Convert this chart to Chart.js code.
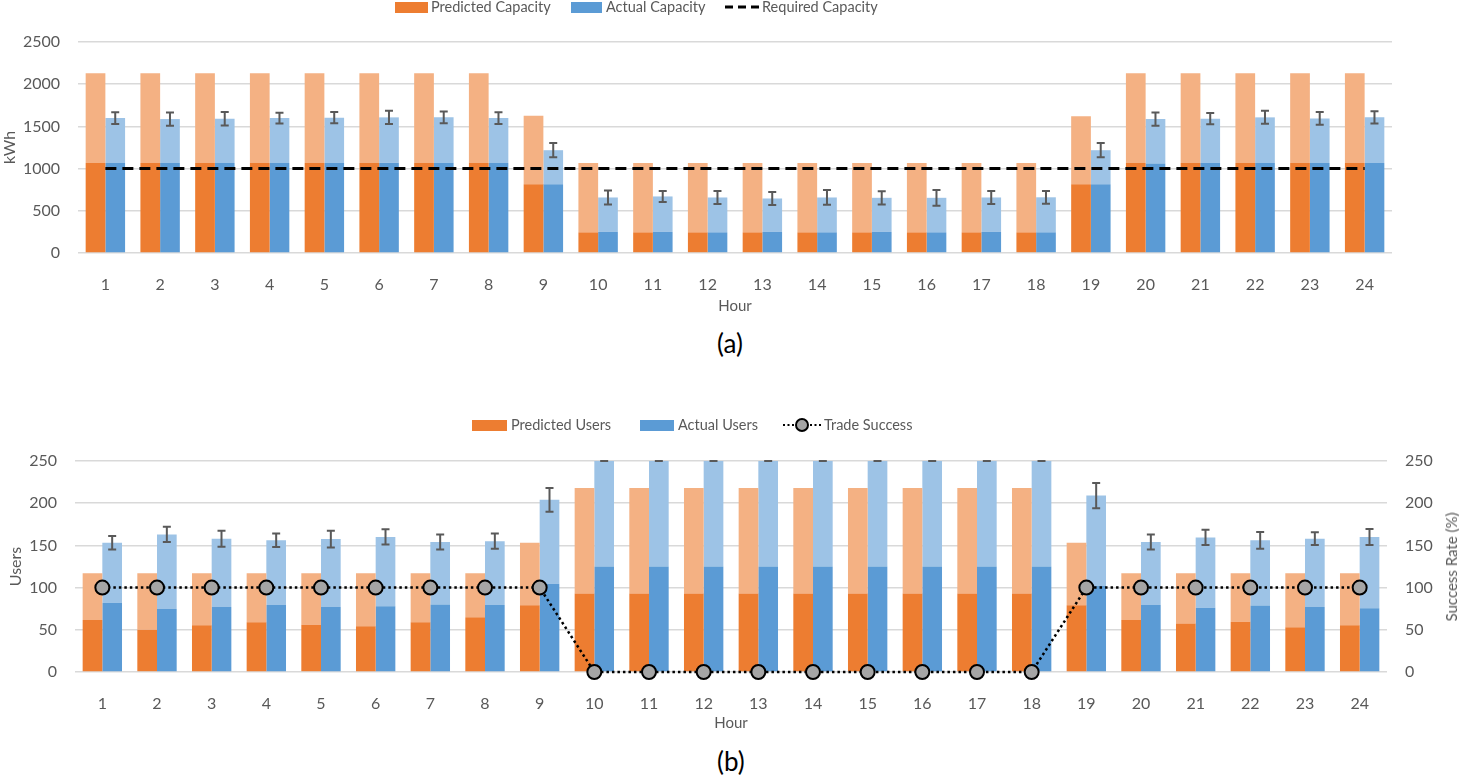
<!DOCTYPE html>
<html>
<head>
<meta charset="utf-8">
<script src="https://cdn.jsdelivr.net/npm/chart.js@4"></script>
<style>
  html, body { margin: 0; padding: 0; background: #ffffff; }
  body { width: 1459px; height: 776px; position: relative; overflow: hidden; font-family: Lato, "Noto Sans", sans-serif; }
  canvas { position: absolute; left: 0; }
  .lg { position: absolute; font-size: 14.5px; color: #595959; line-height: 16px; white-space: nowrap; }
  .box { position: absolute; }
  .cap { position: absolute; font-size: 26px; color: #000; line-height: 30px; }
</style>
</head>
<body>
<canvas id="c1" style="top:0px;width:1459px;height:322px" width="1459" height="322"></canvas>
<canvas id="c2" style="top:400px;width:1459px;height:340px" width="1459" height="340"></canvas>
<div id="legend1"></div>
<div id="legend2"></div>
<div class="cap" style="left:717px;top:328px">(a)</div>
<div class="cap" style="left:717px;top:746px">(b)</div>
<div class="lg" id="y2title" style="font-size:15px;left:1451px;top:567px;transform:translate(-50%,-50%) rotate(-90deg);">Success Rate (%)</div>
<script>
// ---------------- DATA ----------------
const hours = ['1','2','3','4','5','6','7','8','9','10','11','12','13','14','15','16','17','18','19','20','21','22','23','24'];

// Panel (a) – capacity (kWh)
const predCapBase  = [1065,1065,1065,1065,1065,1065,1065,1065,815,245,245,245,245,245,245,245,245,245,815,1065,1065,1065,1065,1065];
const predCapTotal = [2130,2130,2130,2130,2130,2130,2130,2130,1625,1065,1065,1065,1065,1065,1065,1065,1065,1065,1620,2130,2130,2130,2130,2130];
const actCapBase   = [1065,1065,1065,1065,1070,1070,1070,1065,815,250,250,245,250,245,250,245,250,245,815,1060,1070,1065,1065,1065];
const actCapTotal  = [1599,1587,1591,1599,1603,1607,1607,1599,1218,658,670,658,646,658,654,654,658,660,1218,1587,1591,1607,1595,1607];
const actCapErr    = [70,79,79,64,67,79,71,70,85,83,65,77,77,87,79,93,77,75,85,79,67,77,75,73];
const requiredCap  = [1000,1000,1000,1000,1000,1000,1000,1000,1000,1000,1000,1000,1000,1000,1000,1000,1000,1000,1000,1000,1000,1000,1000,1000];

// Panel (b) – users and trade success
const predUsersBase  = [61.5,50,55.5,59,56,54.3,59,65,79,93,93,93,93,93,93,93,93,93,79,61.5,57.5,59.5,53,55.5];
const predUsersTotal = [117,117,117,117,117,117,117,117,153,218,218,218,218,218,218,218,218,218,153,117,117,117,117,117];
const actUsersBase   = [82,74.5,77,79.5,77,78,80,79.5,104.5,125,125,125,125,125,125,125,125,125,102,79.5,76,78.7,77,75.6];
const actUsersTotal  = [153,163,158,156,157.5,160,154,155,204,262,262,262,262,262,262,262,262,262,209,154,159.5,156,158,160];
const actUsersErr    = [8,9,9.5,8,10,9,9,9,14,12,12,12,12,12,12,12,12,12,15,9,9,10,7.5,9.5];
const tradeSuccess   = [100,100,100,100,100,100,100,100,100,0,0,0,0,0,0,0,0,0,100,100,100,100,100,100];

const yTicksA = [0,500,1000,1500,2000,2500];
const yTicksB = [0,50,100,150,200,250];

// ---------------- STYLE ----------------
const ORANGE = '#ED7D31', ORANGE_L = '#F4B183', BLUE = '#5B9BD5', BLUE_L = '#9DC3E6';
const TXT = '#595959', GRID = '#D9D9D9';
const FONT = 'Lato';

function diff(total, base) { return total.map((v, i) => v - base[i]); }
const plainNum = v => String(v);

// error bar plugin – drawn on top of the last actual-bar segment
const errorBarPlugin = {
  id: 'errorBars',
  afterDatasetsDraw(chart, args, opts) {
    const meta = chart.getDatasetMeta(opts.datasetIndex);
    const yScale = chart.scales[opts.scaleId];
    const ctx = chart.ctx;
    const area = chart.chartArea;
    ctx.save();
    ctx.beginPath();
    ctx.rect(area.left, area.top - 1, area.right - area.left, area.bottom - area.top + 1);
    ctx.clip();
    ctx.strokeStyle = '#595959';
    ctx.lineWidth = 2;
    meta.data.forEach((bar, i) => {
      const total = opts.totals[i], e = opts.errors[i];
      const x = bar.x;
      const yHi = yScale.getPixelForValue(total + e);
      const yLo = yScale.getPixelForValue(total - e);
      ctx.beginPath();
      ctx.moveTo(x, yHi); ctx.lineTo(x, yLo);
      ctx.moveTo(x - 4, yHi); ctx.lineTo(x + 4, yHi);
      ctx.moveTo(x - 4, yLo); ctx.lineTo(x + 4, yLo);
      ctx.stroke();
    });
    ctx.restore();
  }
};

Chart.defaults.font.family = FONT;
Chart.defaults.color = TXT;
Chart.defaults.animation = false;

// ---------------- CHART (a) ----------------
new Chart(document.getElementById('c1'), {
  data: {
    labels: hours,
    datasets: [
      { type: 'bar', label: 'Predicted Capacity', data: predCapBase, backgroundColor: ORANGE, stack: 'p', order: 2 },
      { type: 'bar', label: 'Predicted Capacity (upper)', data: diff(predCapTotal, predCapBase), backgroundColor: ORANGE_L, stack: 'p', order: 2 },
      { type: 'bar', label: 'Actual Capacity', data: actCapBase, backgroundColor: BLUE, stack: 'a', order: 2 },
      { type: 'bar', label: 'Actual Capacity (upper)', data: diff(actCapTotal, actCapBase), backgroundColor: BLUE_L, stack: 'a', order: 2 },
      { type: 'line', label: 'Required Capacity', data: requiredCap, borderColor: '#000', borderWidth: 3, borderDash: [11, 6], pointRadius: 0, fill: false, stack: 'r', order: 1 }
    ]
  },
  options: {
    responsive: false,
    layout: { padding: { top: 42, right: 67, left: 0, bottom: 0 } },
    datasets: { bar: { categoryPercentage: 0.72, barPercentage: 1.0 } },
    plugins: {
      legend: { display: false },
      tooltip: { enabled: false },
      errorBars: { datasetIndex: 3, scaleId: 'y', totals: actCapTotal, errors: actCapErr }
    },
    scales: {
      x: {
        stacked: true,
        grid: { display: false },
        border: { display: false },
        ticks: { font: { size: 16 }, color: TXT, padding: 14, maxRotation: 0 },
        title: { display: true, text: 'Hour', font: { size: 15 }, color: TXT, padding: { top: 0, bottom: 7 } },
        afterFit(s) { s.height = 69; }
      },
      y: {
        stacked: true,
        min: 0, max: 2500,
        afterBuildTicks(s) { s.ticks = yTicksA.map(v => ({ value: v })); },
        grid: { color: GRID, lineWidth: 1.6, drawTicks: false },
        border: { display: false },
        ticks: { font: { size: 16 }, color: TXT, padding: 18, callback: plainNum },
        title: { display: true, text: 'kWh', font: { size: 16 }, color: TXT, padding: { top: 0, bottom: 0 } },
        afterFit(s) { s.width = 78; }
      }
    }
  },
  plugins: [errorBarPlugin]
});

// ---------------- CHART (b) ----------------
new Chart(document.getElementById('c2'), {
  data: {
    labels: hours,
    datasets: [
      { type: 'bar', label: 'Predicted Users', data: predUsersBase, backgroundColor: ORANGE, stack: 'p', yAxisID: 'y', order: 2 },
      { type: 'bar', label: 'Predicted Users (upper)', data: diff(predUsersTotal, predUsersBase), backgroundColor: ORANGE_L, stack: 'p', yAxisID: 'y', order: 2 },
      { type: 'bar', label: 'Actual Users', data: actUsersBase, backgroundColor: BLUE, stack: 'a', yAxisID: 'y', order: 2 },
      { type: 'bar', label: 'Actual Users (upper)', data: diff(actUsersTotal, actUsersBase), backgroundColor: BLUE_L, stack: 'a', yAxisID: 'y', order: 2 },
      { type: 'line', label: 'Trade Success', data: tradeSuccess, yAxisID: 'y2', borderColor: '#000', borderWidth: 2.5, borderDash: [2.5, 3], pointRadius: 7, pointBackgroundColor: '#A5A5A5', pointBorderColor: '#000', pointBorderWidth: 2, fill: false, order: 1, clip: false }
    ]
  },
  options: {
    responsive: false,
    layout: { padding: { top: 61, right: 0, left: 0, bottom: 0 } },
    datasets: { bar: { categoryPercentage: 0.72, barPercentage: 1.0 } },
    plugins: {
      legend: { display: false },
      tooltip: { enabled: false },
      errorBars: { datasetIndex: 3, scaleId: 'y', totals: actUsersTotal, errors: actUsersErr }
    },
    scales: {
      x: {
        stacked: true,
        grid: { display: false },
        border: { display: false },
        ticks: { font: { size: 16 }, color: TXT, padding: 14, maxRotation: 0 },
        title: { display: true, text: 'Hour', font: { size: 15 }, color: TXT, padding: { top: 0, bottom: 8 } },
        afterFit(s) { s.height = 68; }
      },
      y: {
        stacked: true,
        min: 0, max: 250,
        afterBuildTicks(s) { s.ticks = yTicksB.map(v => ({ value: v })); },
        grid: { color: GRID, lineWidth: 1.6, drawTicks: false },
        border: { display: false },
        ticks: { font: { size: 16 }, color: TXT, padding: 18, callback: plainNum },
        title: { display: true, text: 'Users', font: { size: 16 }, color: TXT, padding: { top: 6, bottom: 0 } },
        afterFit(s) { s.width = 75; }
      },
      y2: {
        position: 'right',
        min: 0, max: 250,
        afterBuildTicks(s) { s.ticks = yTicksB.map(v => ({ value: v })); },
        grid: { display: false, drawTicks: false },
        border: { display: false },
        ticks: { font: { size: 16 }, color: TXT, padding: 18, callback: plainNum },
        afterFit(s) { s.width = 72; }
      }
    }
  },
  plugins: [errorBarPlugin]
});

// ---------------- LEGENDS (HTML) ----------------
function buildLegend(el, top, items) {
  items.forEach(it => {
    if (it.kind === 'box') {
      const b = document.createElement('div');
      b.className = 'box';
      b.style.cssText = `left:${it.x}px;top:${top - 5}px;width:${it.w}px;height:11px;background:${it.color}`;
      el.appendChild(b);
    } else if (it.kind === 'dash') {
      const c = document.createElement('canvas');
      c.width = it.w; c.height = 10;
      c.style.cssText = `position:absolute;left:${it.x}px;top:${top - 5}px;width:${it.w}px;height:10px`;
      const g = c.getContext('2d');
      g.strokeStyle = '#000'; g.lineWidth = 3; g.setLineDash([8, 5]);
      g.beginPath(); g.moveTo(0, 5); g.lineTo(it.w, 5); g.stroke();
      el.appendChild(c);
    } else if (it.kind === 'marker') {
      const c = document.createElement('canvas');
      c.width = it.w; c.height = 18;
      c.style.cssText = `position:absolute;left:${it.x}px;top:${top - 9}px;width:${it.w}px;height:18px`;
      const g = c.getContext('2d');
      g.strokeStyle = '#000'; g.lineWidth = 2; g.setLineDash([2, 2.5]);
      g.beginPath(); g.moveTo(0, 9); g.lineTo(it.w, 9); g.stroke();
      g.setLineDash([]);
      g.beginPath(); g.arc(it.w / 2, 9, 6, 0, Math.PI * 2);
      g.fillStyle = '#A5A5A5'; g.fill(); g.lineWidth = 2; g.stroke();
      el.appendChild(c);
    }
    const t = document.createElement('div');
    t.className = 'lg';
    t.style.left = it.tx + 'px';
    t.style.top = (top - 8) + 'px';
    t.textContent = it.label;
    el.appendChild(t);
  });
}
buildLegend(document.getElementById('legend1'), 7, [
  { kind: 'box', x: 395, w: 33, color: ORANGE, tx: 431, label: 'Predicted Capacity' },
  { kind: 'box', x: 571, w: 31, color: BLUE, tx: 606, label: 'Actual Capacity' },
  { kind: 'dash', x: 725, w: 36, tx: 762, label: 'Required Capacity' }
]);
buildLegend(document.getElementById('legend2'), 425, [
  { kind: 'box', x: 472, w: 35, color: ORANGE, tx: 511, label: 'Predicted Users' },
  { kind: 'box', x: 640, w: 34, color: BLUE, tx: 678, label: 'Actual Users' },
  { kind: 'marker', x: 783, w: 38, tx: 824, label: 'Trade Success' }
]);
</script>
</body>
</html>
